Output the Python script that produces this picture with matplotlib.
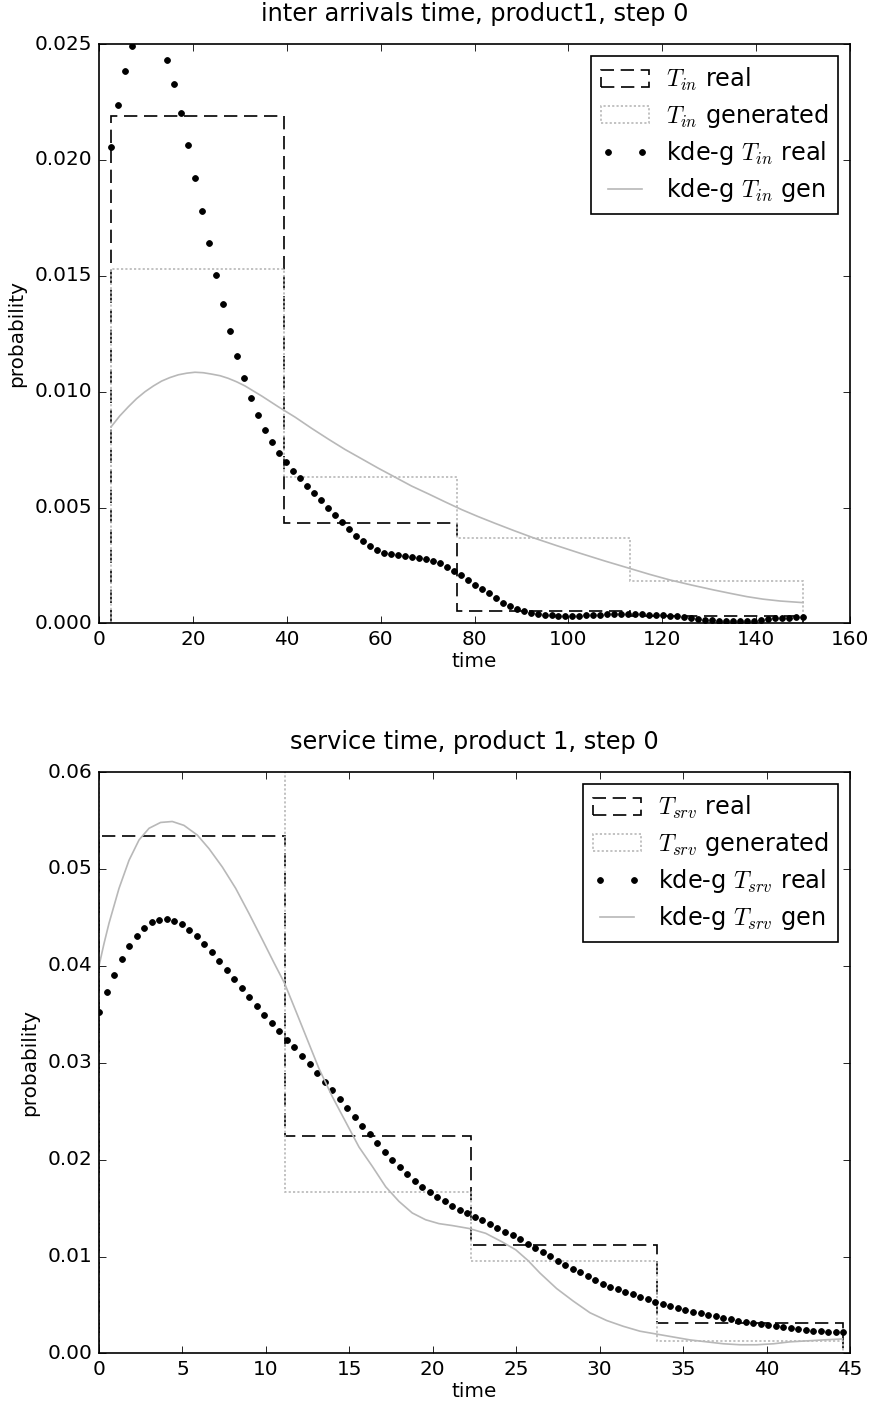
import numpy as np
import matplotlib
matplotlib.use("Agg")
import matplotlib.pyplot as plt

# histogram bins
tin_edges = [2.6, 39.45, 76.3, 113.15, 150.0]
tin_real = [0.0219, 0.00435, 0.00053, 0.00034]
tin_gen = [0.0153, 0.0063, 0.0037, 0.00184]

tsrv_edges = [0.0, 11.15, 22.3, 33.45, 44.6]
tsrv_real = [0.0534, 0.0224, 0.0112, 0.0031]
tsrv_gen = [0.0621, 0.0167, 0.0095, 0.0013]

# kde of real data, 100 evaluation points
tin_kde_lo, tin_kde_hi = 2.6, 150.0
tin_kde_real = [
    0.02057, 0.02236, 0.02384, 0.02492, 0.0257, 0.0262, 0.0262, 0.0255, 0.02432, 0.02326,
    0.02202, 0.02064, 0.01923, 0.01780, 0.01640, 0.01505, 0.01380, 0.01262, 0.01154, 0.01059,
    0.00974, 0.00901, 0.00836, 0.00782, 0.00736, 0.00695, 0.00659, 0.00626, 0.00594, 0.00563,
    0.00533, 0.00500, 0.00467, 0.00437, 0.00408, 0.00379, 0.00355, 0.00334, 0.00317, 0.00305,
    0.00299, 0.00294, 0.00291, 0.00288, 0.00284, 0.00277, 0.00268, 0.00260, 0.00245, 0.00228,
    0.00209, 0.00188, 0.00167, 0.00148, 0.00130, 0.00109, 0.00090, 0.00074, 0.00063, 0.00054,
    0.00047, 0.00042, 0.00038, 0.00035, 0.00034, 0.00032, 0.00032, 0.00034, 0.00035, 0.00037,
    0.00038, 0.00039, 0.00039, 0.00041, 0.00041, 0.00039, 0.00039, 0.00038, 0.00038, 0.00037,
    0.00034, 0.00031, 0.00028, 0.00024, 0.00020, 0.00017, 0.00014, 0.00011, 0.00010, 0.00009,
    0.00009, 0.00010, 0.00012, 0.00015, 0.00019, 0.00022, 0.00023, 0.00024, 0.00026, 0.00026,
]

tsrv_kde_lo, tsrv_kde_hi = 0.0, 44.6
tsrv_kde_real = [
    0.03527, 0.03734, 0.03909, 0.04071, 0.04205, 0.04312, 0.04394, 0.04450, 0.04477, 0.04481,
    0.04463, 0.04429, 0.04374, 0.04309, 0.04229, 0.04143, 0.04051, 0.03960, 0.03867, 0.03772,
    0.03678, 0.03586, 0.03498, 0.03411, 0.03323, 0.03239, 0.03158, 0.03070, 0.02984, 0.02895,
    0.02805, 0.02717, 0.02626, 0.02534, 0.02443, 0.02350, 0.02260, 0.02170, 0.02083, 0.02000,
    0.01925, 0.01852, 0.01783, 0.01718, 0.01663, 0.01615, 0.01570, 0.01525, 0.01484, 0.01448,
    0.01409, 0.01375, 0.01336, 0.01295, 0.01257, 0.01220, 0.01178, 0.01133, 0.01089, 0.01044,
    0.01003, 0.00958, 0.00916, 0.00875, 0.00836, 0.00800, 0.00759, 0.00721, 0.00690, 0.00662,
    0.00635, 0.00611, 0.00587, 0.00559, 0.00535, 0.00507, 0.00487, 0.00470, 0.00449, 0.00432,
    0.00414, 0.00400, 0.00383, 0.00366, 0.00353, 0.00339, 0.00325, 0.00315, 0.00304, 0.00291,
    0.00280, 0.00270, 0.00260, 0.00253, 0.00242, 0.00235, 0.00232, 0.00225, 0.00222, 0.00218,
]

# kde of generated data (smooth line)
tin_gen_x = [2.6, 4.4, 6.25, 8.0, 9.8, 11.6, 13.35, 15.1, 16.9, 18.7, 20.45, 22.2, 24.0, 25.8,
             27.5, 29.3, 31.1, 34.7, 38.2, 41.8, 45.3, 48.9, 52.4, 56.0, 59.5, 63.1, 66.6,
             70.2, 73.7, 77.3, 80.8, 84.4, 88.5, 92.5, 97.5, 102.5, 107.7, 113.0, 117.3,
             121.6, 126.2, 130.9, 134.5, 138.0, 141.5, 145.1, 150.0]
tin_gen_y = [0.00849, 0.00895, 0.00935, 0.00970, 0.01000, 0.01025, 0.01046, 0.01061, 0.01073,
             0.01080, 0.01084, 0.01082, 0.01076, 0.01069, 0.01058, 0.01043, 0.01025, 0.00981,
             0.00935, 0.00890, 0.00842, 0.00795, 0.00751, 0.00710, 0.00670, 0.00631, 0.00593,
             0.00559, 0.00525, 0.00491, 0.00461, 0.00432, 0.00400, 0.00370, 0.00336, 0.00303,
             0.00270, 0.00238, 0.00212, 0.00188, 0.00166, 0.00145, 0.00130, 0.00116, 0.00105,
             0.00097, 0.00090]

tsrv_gen_x = [0.0, 0.3, 0.6, 1.2, 1.8, 2.4, 3.0, 3.69, 4.39, 5.09, 5.89, 6.59, 7.39, 8.19,
              8.99, 9.79, 10.49, 11.12, 11.78, 12.48, 13.18, 13.98, 14.78, 15.58, 16.38,
              17.18, 17.97, 18.77, 19.57, 20.37, 21.17, 22.17, 23.17, 24.17, 24.97, 25.7,
              26.42, 27.42, 28.42, 29.42, 30.42, 31.42, 32.41, 33.41, 34.41, 35.41, 36.41,
              37.41, 38.41, 39.41, 40.41, 41.4, 42.4, 43.4, 44.54]
tsrv_gen_y = [0.0400, 0.0423, 0.0444, 0.0480, 0.0509, 0.0530, 0.0542, 0.0548, 0.0549, 0.0545,
              0.0535, 0.0521, 0.0502, 0.0480, 0.0454, 0.0427, 0.0403, 0.0382, 0.0354, 0.0324,
              0.0294, 0.0265, 0.0239, 0.0213, 0.0193, 0.0172, 0.0157, 0.0145, 0.0138, 0.0134,
              0.0132, 0.0129, 0.0124, 0.0115, 0.0107, 0.0096, 0.0083, 0.0067, 0.0054, 0.0042,
              0.0034, 0.0028, 0.0023, 0.0020, 0.0017, 0.0014, 0.0012, 0.0010, 0.0009, 0.0009,
              0.0010, 0.0012, 0.0013, 0.0014, 0.0015]

DASH = (0, (8, 4))
DOT = (0, (1.3, 1.3))
GREY = '0.72'


def panel(ax, edges, real, gen, kde_lo, kde_hi, kde_real, gx, gy, sym, title, xlim, ylim):
    _, _, p_real = ax.hist(edges[:-1], bins=edges, weights=real, histtype='step',
                           color='k', linestyle=DASH, linewidth=1.0)
    _, _, p_gen = ax.hist(edges[:-1], bins=edges, weights=gen, histtype='step',
                          color=GREY, linestyle=DOT, linewidth=1.0)
    kx = np.linspace(kde_lo, kde_hi, len(kde_real))
    l_real, = ax.plot(kx, kde_real, 'k.', markersize=7)
    l_gen, = ax.plot(gx, gy, '-', color=GREY, linewidth=1.0)
    ax.set_xlim(*xlim)
    ax.set_ylim(*ylim)
    ax.set_title(title, pad=14)
    ax.set_xlabel('time', labelpad=2)
    ax.set_ylabel('probability')
    ax.legend([p_real[0], p_gen[0], l_real, l_gen],
              [r'$T_{%s}$ real' % sym, r'$T_{%s}$ generated' % sym,
               r'kde-g $T_{%s}$ real' % sym, r'kde-g $T_{%s}$ gen' % sym],
              loc='upper right', labelspacing=0.38, handletextpad=0.7)


def main():
    plt.style.use('classic')
    plt.rcParams['figure.facecolor'] = 'white'
    plt.rcParams['savefig.facecolor'] = 'white'
    fig = plt.figure(figsize=(873 / 120, 1403 / 120), dpi=120)
    ax1 = fig.add_axes([0.1134, 0.5556, 0.8603, 0.4130])
    ax2 = fig.add_axes([0.1134, 0.0353, 0.8603, 0.4144])

    panel(ax1, tin_edges, tin_real, tin_gen, tin_kde_lo, tin_kde_hi, tin_kde_real,
          tin_gen_x, tin_gen_y, 'in', 'inter arrivals time, product1, step 0',
          (0, 160), (0, 0.025))
    panel(ax2, tsrv_edges, tsrv_real, tsrv_gen, tsrv_kde_lo, tsrv_kde_hi, tsrv_kde_real,
          tsrv_gen_x, tsrv_gen_y, 'srv', 'service time, product 1, step 0',
          (0, 45), (0, 0.06))

    fig.savefig('out.png', dpi=120)


if __name__ == "__main__":
    main()
